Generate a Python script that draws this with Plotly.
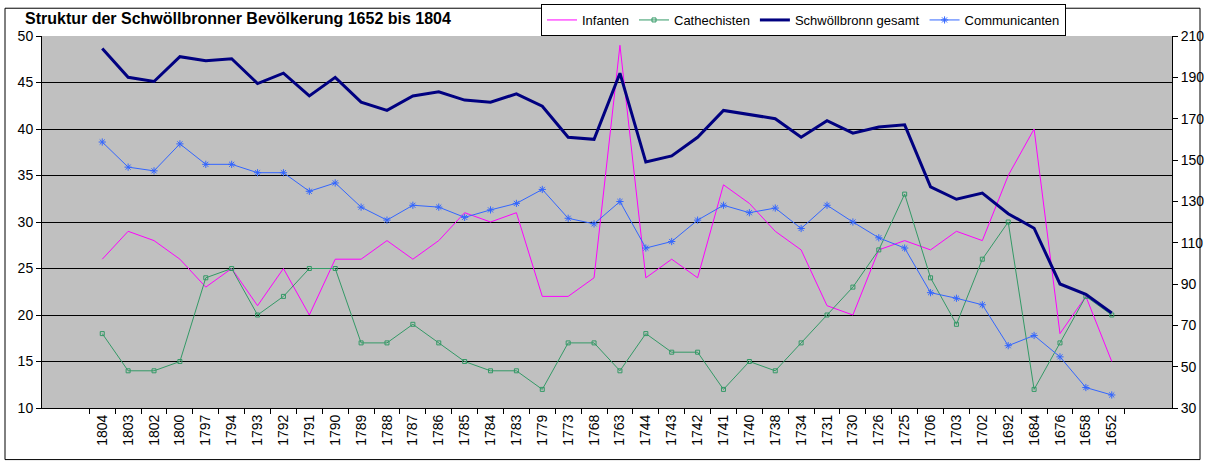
import plotly.graph_objects as go

years = ["1804", "1803", "1802", "1800", "1797", "1794", "1793", "1792", "1791", "1790",
         "1789", "1788", "1787", "1786", "1785", "1784", "1783", "1779", "1773", "1768",
         "1763", "1744", "1743", "1742", "1741", "1740", "1738", "1734", "1731", "1730",
         "1726", "1725", "1706", "1703", "1702", "1692", "1684", "1676", "1658", "1652"]

infanten = [26, 29, 28, 26, 23, 25, 21, 25, 20, 26, 26, 28, 26, 28, 31, 30, 31, 22, 22, 24,
            49, 24, 26, 24, 34, 32, 29, 27, 21, 20, 27, 28, 27, 29, 28, 35, 40, 18, 22, 15]

cathechisten = [18, 14, 14, 15, 24, 25, 20, 22, 25, 25, 17, 17, 19, 17, 15, 14, 14, 12, 17, 17,
                14, 18, 16, 16, 12, 15, 14, 17, 20, 23, 27, 33, 24, 19, 26, 30, 12, 17, 22, 20]

gesamt = [204, 190, 188, 200, 198, 199, 187, 192, 181, 190, 178, 174, 181, 183, 179, 178, 182, 176, 161, 160,
          192, 149, 152, 161, 174, 172, 170, 161, 169, 163, 166, 167, 137, 131, 134, 124, 117, 90, 85, 76]

communicanten = [38.6, 35.9, 35.5, 38.4, 36.2, 36.2, 35.3, 35.3, 33.3, 34.2, 31.6, 30.2, 31.8, 31.6, 30.5,
                 31.3, 32.0, 33.5, 30.4, 29.8, 32.2, 27.2, 27.9, 30.2, 31.8, 31.0, 31.5, 29.3, 31.8, 30.0,
                 28.3, 27.2, 22.4, 21.8, 21.1, 16.7, 17.8, 15.5, 12.2, 11.4]

fig = go.Figure()
fig.add_trace(go.Scatter(x=years, y=infanten, name="Infanten", mode="lines",
                         line=dict(color="#FF00FF", width=1)))
fig.add_trace(go.Scatter(x=years, y=cathechisten, name="Cathechisten", mode="lines+markers",
                         line=dict(color="#339966", width=1),
                         marker=dict(symbol="square-open", size=4, color="#339966")))
fig.add_trace(go.Scatter(x=years, y=gesamt, name="Schwöllbronn gesamt", mode="lines", yaxis="y2",
                         line=dict(color="#000080", width=3)))
fig.add_trace(go.Scatter(x=years, y=communicanten, name="Communicanten", mode="lines+markers",
                         line=dict(color="#3366FF", width=1),
                         marker=dict(symbol="asterisk-open", size=6, color="#3366FF",
                                     line=dict(color="#3366FF", width=1))))

font = dict(family="Liberation Sans, Arial", size=14, color="black")

fig.update_layout(
    width=1207, height=467,
    margin=dict(l=42, r=35, t=33, b=59),
    paper_bgcolor="white", plot_bgcolor="#C0C0C0",
    font=font,
    title=dict(text="<b>Struktur der Schwöllbronner Bevölkerung 1652 bis 1804</b>",
               x=25 / 1207, xanchor="left", y=1 - 18 / 467, yanchor="middle",
               font=dict(family="Liberation Sans, Arial", size=16)),
    showlegend=True,
    legend=dict(orientation="h", x=1066 / 1207, xanchor="right", xref="container",
                y=1 - 4 / 467, yanchor="top", yref="container",
                bordercolor="black", borderwidth=1, bgcolor="white",
                font=dict(family="Liberation Sans, Arial", size=13),
                tracegroupgap=0, itemwidth=30),
    xaxis=dict(type="category", tickangle=-90, ticks="outside", tickson="boundaries",
               ticklen=5, tickcolor="black", showline=True, linecolor="black",
               showgrid=False, automargin=False),
    yaxis=dict(range=[10, 50], dtick=5, ticks="outside", ticklen=5, tickcolor="black",
               showline=True, linecolor="black", gridcolor="black", gridwidth=1,
               zeroline=False, automargin=False),
    yaxis2=dict(range=[30, 210], tick0=30, dtick=20, overlaying="y", side="right", ticks="outside",
                ticklen=5, tickcolor="black", showline=True, linecolor="black",
                showgrid=False, zeroline=False, automargin=False),
    shapes=[dict(type="rect", xref="paper", yref="paper",
                 x0=(5 - 42) / 1130, x1=(1200 - 42) / 1130,
                 y0=(408 - 460) / 375, y1=(408 - 5) / 375,
                 line=dict(color="black", width=1), layer="below")],
)

fig.write_html("out.html", config={"displayModeBar": False},
               post_script="document.body.style.margin='0';")
